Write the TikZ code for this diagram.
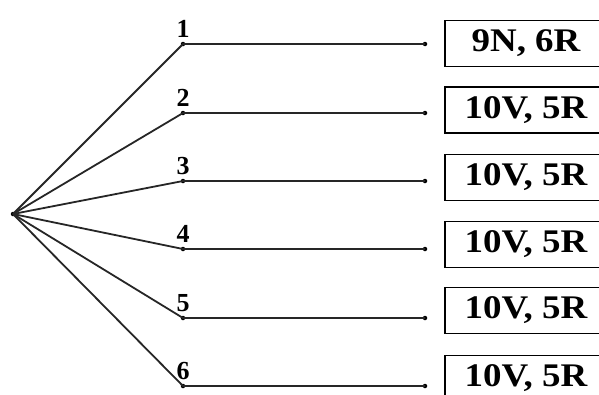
\documentclass[tikz,border=0pt]{standalone}
\usepackage{fontspec}
\setmainfont{Liberation Serif}
\begin{document}
\begin{tikzpicture}[x=1pt,y=-1pt,
  wire/.style={line width=1.8pt,black!85},
  dotnode/.style={circle,fill=black,inner sep=0pt,minimum size=4.5pt},
  numlabel/.style={anchor=base,inner sep=0pt,font=\fontsize{26}{26}\selectfont\bfseries},
  valbox/.style={draw,line width=1.8pt,minimum width=162pt,minimum height=46pt,inner sep=0pt,
    font=\fontsize{33}{33}\selectfont\bfseries}]
\useasboundingbox (0,0) rectangle (599,394);
\clip (0,0) rectangle (599,394);
\node[dotnode] (r) at (13,214) {};
\foreach \i/\y/\by/\t in {1/44/43.5/{9N, 6R},2/113/110/{10V, 5R},3/181/177.5/{10V, 5R},4/249/244.5/{10V, 5R},5/318/310.5/{10V, 5R},6/386/378.5/{10V, 5R}}{
  \node[dotnode] (p\i) at (183,\y) {};
  \node[dotnode] (q\i) at (425,\y) {};
  \node[numlabel] (n\i) at (183,\y-7) {\i};
  \node[valbox] (b\i) at (526,\by) {\scalebox{1.12}[1]{\t}};
  \draw[wire] (r.center) -- (p\i.center) -- (q\i.center);
}
\end{tikzpicture}
\end{document}
